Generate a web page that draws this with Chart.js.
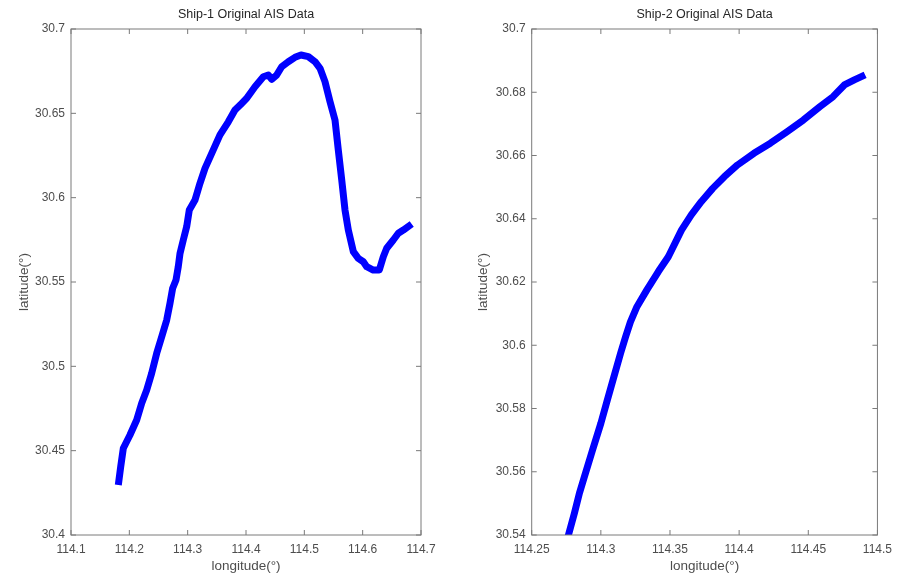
<!DOCTYPE html>
<html lang="en">
<head>
<meta charset="UTF-8">
<title>Original AIS Data</title>
<style>
  body { margin: 0; background: #fff; overflow: hidden; }
  canvas { position: absolute; top: 0; }
  #c1 { left: 0; }
  #c2 { left: 450px; }
</style>
</head>
<body>
<script src="https://cdn.jsdelivr.net/npm/chart.js"></script>
<canvas id="c1" width="450" height="576"></canvas>
<canvas id="c2" width="449" height="576"></canvas>
<script>
// Ship-1 track
var lon1 = [114.1811, 114.1852, 114.1897, 114.2011, 114.2126, 114.2212, 114.2298, 114.2383, 114.2469, 114.2555,
            114.2641, 114.2697, 114.2743, 114.2800, 114.2839, 114.2869, 114.2925, 114.2983, 114.3028, 114.3126,
            114.3211, 114.3297, 114.3439, 114.3554, 114.3697, 114.3811, 114.3926, 114.4012, 114.4154, 114.4297,
            114.4382, 114.4441, 114.4526, 114.4612, 114.4725, 114.4840, 114.4943, 114.5068, 114.5183, 114.5269,
            114.5354, 114.5440, 114.5526, 114.5582, 114.5641, 114.5697, 114.5754, 114.5840, 114.5925, 114.6011,
            114.6069, 114.6182, 114.6285, 114.6354, 114.6412, 114.6525, 114.6611, 114.6697, 114.6841]
var lat1 = [30.4296, 30.4405, 30.4514, 30.4593, 30.4682, 30.4781, 30.4860, 30.4959, 30.5077, 30.5176,
            30.5275, 30.5374, 30.5463, 30.5512, 30.5591, 30.5670, 30.5749, 30.5828, 30.5927, 30.5986,
            30.6085, 30.6174, 30.6283, 30.6372, 30.6450, 30.6520, 30.6559, 30.6589, 30.6658, 30.6717,
            30.6727, 30.6702, 30.6727, 30.6776, 30.6806, 30.6832, 30.6846, 30.6836, 30.6806, 30.6767,
            30.6688, 30.6569, 30.6460, 30.6283, 30.6105, 30.5927, 30.5808, 30.5680, 30.5640, 30.5620,
            30.5591, 30.5571, 30.5571, 30.5650, 30.5700, 30.5749, 30.5789, 30.5808, 30.5844]

// Ship-2 track
var lon2 = [114.2745, 114.2769, 114.2809, 114.2845, 114.2881, 114.2940, 114.3000, 114.3047, 114.3095, 114.3143,
            114.3179, 114.3214, 114.3261, 114.3333, 114.3416, 114.3488, 114.3583, 114.3654, 114.3726, 114.3809,
            114.3893, 114.3988, 114.4107, 114.4226, 114.4345, 114.4464, 114.4583, 114.4679, 114.4761, 114.4833,
            114.4911]
var lat2 = [30.5368, 30.5405, 30.5469, 30.5532, 30.5584, 30.5669, 30.5753, 30.5827, 30.5901, 30.5975,
            30.6027, 30.6074, 30.6122, 30.6175, 30.6233, 30.6280, 30.6364, 30.6412, 30.6454, 30.6496,
            30.6533, 30.6570, 30.6607, 30.6639, 30.6675, 30.6712, 30.6754, 30.6786, 30.6823, 30.6839,
            30.6855]

var xTicks1 = [114.1, 114.2, 114.3, 114.4, 114.5, 114.6, 114.7]
var yTicks1 = [30.4, 30.45, 30.5, 30.55, 30.6, 30.65, 30.7]
var xTicks2 = [114.25, 114.3, 114.35, 114.4, 114.45, 114.5]
var yTicks2 = [30.54, 30.56, 30.58, 30.6, 30.62, 30.64, 30.66, 30.68, 30.7]

var FONT = "'Liberation Sans', Arial, sans-serif"
var TEXT = '#4d4d4d'
var BOX = '#7a7a7a'

// axes box with inward tick marks, like matlab "box on"
var boxPlugin = {
  id: 'box',
  afterDatasetsDraw(chart) {
    var ctx = chart.ctx, a = chart.chartArea
    var xs = chart.scales.x, ys = chart.scales.y
    var len = 5
    ctx.save()
    ctx.strokeStyle = BOX
    ctx.lineWidth = 1
    ctx.strokeRect(a.left, a.top, a.right - a.left, a.bottom - a.top)
    ctx.beginPath()
    xs.ticks.forEach(function (t) {
      var p = xs.getPixelForValue(t.value)
      ctx.moveTo(p, a.bottom); ctx.lineTo(p, a.bottom - len)
      ctx.moveTo(p, a.top); ctx.lineTo(p, a.top + len)
    })
    ys.ticks.forEach(function (t) {
      var p = ys.getPixelForValue(t.value)
      ctx.moveTo(a.left, p); ctx.lineTo(a.left + len, p)
      ctx.moveTo(a.right, p); ctx.lineTo(a.right - len, p)
    })
    ctx.stroke()
    ctx.restore()
  }
}

function fmt(v) { return String(+(+v).toFixed(4)) }

function makeChart(id, title, lon, lat, xTicks, yTicks, yWidth, padRight, yTitlePad, yTickPad) {
  var pts = lon.map(function (x, i) { return {x: x, y: lat[i]} })
  return new Chart(document.getElementById(id), {
    type: 'scatter',
    data: {
      datasets: [{
        data: pts,
        showLine: true,
        borderColor: '#0000ff',
        borderWidth: 7,
        borderJoinStyle: 'round',
        pointRadius: 0,
        tension: 0,
        clip: 0
      }]
    },
    options: {
      responsive: false,
      animation: false,
      events: [],
      layout: { padding: { left: 0, right: padRight, top: 0, bottom: 0 } },
      plugins: {
        legend: { display: false },
        tooltip: { enabled: false },
        title: {
          display: true,
          text: title,
          fullSize: false,
          color: '#262626',
          font: { family: FONT, size: 12.5, weight: 'normal' },
          padding: { top: 7, bottom: 7 }
        }
      },
      scales: {
        x: {
          type: 'linear',
          min: xTicks[0],
          max: xTicks[xTicks.length - 1],
          afterBuildTicks: function (s) { s.ticks = xTicks.map(function (v) { return {value: v} }) },
          afterFit: function (s) { s.height = 41 },
          grid: { display: false, drawTicks: false },
          border: { display: false },
          ticks: { autoSkip: false, maxRotation: 0, padding: 7, color: TEXT,
                   font: { family: FONT, size: 12 }, callback: fmt },
          title: { display: true, text: 'longitude(°)', color: TEXT,
                   font: { family: FONT, size: 13.5 }, padding: { top: 0, bottom: 2 } }
        },
        y: {
          type: 'linear',
          min: yTicks[0],
          max: yTicks[yTicks.length - 1],
          afterBuildTicks: function (s) { s.ticks = yTicks.map(function (v) { return {value: v} }) },
          afterFit: function (s) { s.width = yWidth },
          grid: { display: false, drawTicks: false },
          border: { display: false },
          ticks: { autoSkip: false, padding: yTickPad, color: TEXT,
                   font: { family: FONT, size: 12 }, callback: fmt },
          title: { display: true, text: 'latitude(°)', color: TEXT,
                   font: { family: FONT, size: 13.5 }, padding: { top: yTitlePad, bottom: 0 } }
        }
      }
    },
    plugins: [boxPlugin]
  })
}

makeChart('c1', 'Ship-1 Original AIS Data', lon1, lat1, xTicks1, yTicks1, 71, 29, 16, 6)
makeChart('c2', 'Ship-2 Original AIS Data', lon2, lat2, xTicks2, yTicks2, 81.7, 17.3, 25, 6)
</script>
</body>
</html>
